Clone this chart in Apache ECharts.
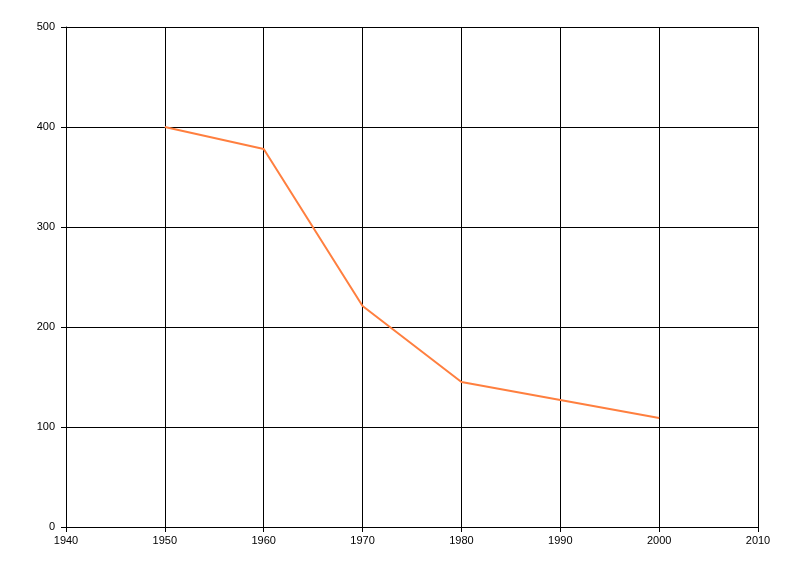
<!DOCTYPE html>
<html><head><meta charset="utf-8">
<script src="https://cdn.jsdelivr.net/npm/echarts@6/dist/echarts.min.js"></script>
<style>html,body{margin:0;padding:0;background:#fff}#c{width:800px;height:576px}</style>
</head><body><div id="c"></div>
<script>
var years = [1950, 1960, 1970, 1980, 1990, 2000];
var values = [400, 378, 221, 145, 127, 109];

var chart = echarts.init(document.getElementById('c'));
var axisCommon = {
  axisLine: {show: true, lineStyle: {color: '#000', width: 1}},
  axisTick: {show: true, length: 5, lineStyle: {color: '#000'}},
  splitLine: {show: true, lineStyle: {color: '#000', width: 1}}
};
var fmt = function (v) { return String(v); };
chart.setOption({
  animation: false,
  backgroundColor: '#fff',
  grid: {left: 66, right: 42, top: 27, bottom: 49, containLabel: false},
  xAxis: Object.assign({type: 'value', min: 1940, max: 2010, interval: 10}, axisCommon,
    {axisLabel: {color: '#000', fontFamily: 'Liberation Sans', fontSize: 11, margin: 8, formatter: fmt}}),
  yAxis: Object.assign({type: 'value', min: 0, max: 500, interval: 100}, axisCommon,
    {axisLabel: {color: '#000', fontFamily: 'Liberation Sans', fontSize: 11, margin: 11, formatter: fmt}}),
  series: [{
    type: 'line',
    data: years.map(function (y, i) { return [y, values[i]]; }),
    showSymbol: false,
    lineStyle: {color: '#FF7F3F', width: 2},
    itemStyle: {color: '#FF7F3F'}
  }]
});
</script></body></html>
